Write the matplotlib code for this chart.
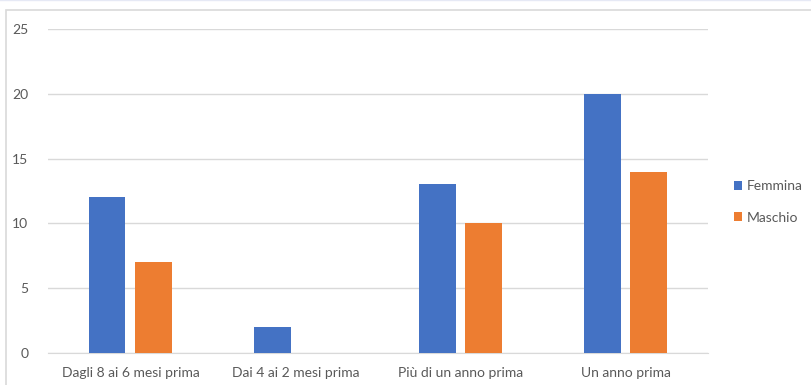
import numpy as np
import matplotlib.pyplot as plt
from matplotlib.patches import Rectangle

# dati
categorie = ['Dagli 8 ai 6 mesi prima', 'Dai 4 ai 2 mesi prima', 'Più di un anno prima', 'Un anno prima']
femmina = [12, 2, 13, 20]
maschio = [7, 0, 10, 14]

plt.rcParams['font.family'] = ['Lato', 'DejaVu Sans']

fig = plt.figure(figsize=(8.12, 3.85), dpi=100)
ax = fig.add_axes([0.059, 0.083, 0.813, 0.842])

x = np.arange(len(categorie))
w = 0.224
gap = 0.06
ax.bar(x - (w + gap) / 2, femmina, w, color='#4472c4', label='Femmina', zorder=3)
ax.bar(x + (w + gap) / 2, maschio, w, color='#ed7d31', label='Maschio', zorder=3)

# assi e griglia
ax.set_xlim(-0.5, 3.5)
ax.set_ylim(0, 25)
ax.set_yticks(range(0, 26, 5))
ax.set_xticks(x)
ax.set_xticklabels(categorie)
ax.grid(axis='y', color='#d9d9d9', linewidth=1, zorder=0)
for s in ['top', 'right', 'left']:
    ax.spines[s].set_visible(False)
ax.spines['bottom'].set_color('#d9d9d9')
ax.tick_params(length=0, labelsize=10, colors='#595959', pad=10)
ax.tick_params(axis='y', pad=14)

ax.legend(loc='center left', bbox_to_anchor=(1.02, 0.466), frameon=False,
          fontsize=10, labelcolor='#595959', handlelength=0.6, handleheight=0.6,
          handletextpad=0.3, labelspacing=1.4)

# bordo del grafico
fig.patches.append(Rectangle((6 / 812, -0.01), 1.0, 1 - 10 / 385 + 0.01,
                             transform=fig.transFigure, fill=False,
                             edgecolor='#d9d9d9', linewidth=1.2))
fig.add_artist(plt.Line2D([0, 1], [0.999, 0.999], transform=fig.transFigure,
                          color='#e6e9f5', linewidth=1))

plt.savefig('out.png', dpi=100)
